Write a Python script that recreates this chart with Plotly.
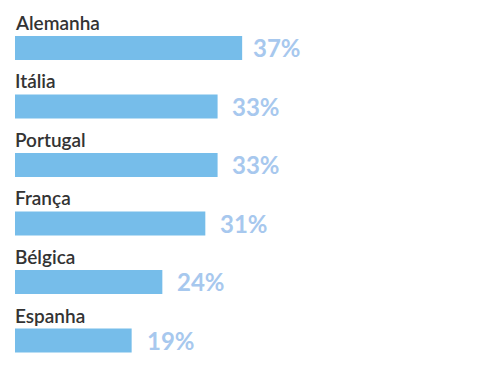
import plotly.graph_objects as go

countries = ["Alemanha", "Itália", "Portugal", "França", "Bélgica", "Espanha"]
values = [37, 33, 33, 31, 24, 19]
labels = ["37%", "33%", "33%", "31%", "24%", "19%"]

bar_color = "#76bdea"
pct_color = "#a7c8ee"
text_color = "#333333"

ypos = list(range(len(countries)))
x_max = 79
label_gap = 2.1       # distance from bar end to percentage label (data units)
label_limit = 38.44   # labels never start to the right of this

fig = go.Figure(go.Bar(
    x=values, y=ypos, orientation="h",
    marker=dict(color=bar_color, line=dict(width=0)),
    width=0.41, hoverinfo="skip",
))

annotations = []
for i, (c, v, l) in enumerate(zip(countries, values, labels)):
    annotations.append(dict(
        x=0, y=i - 0.205, xref="x", yref="y", text=c, showarrow=False,
        xanchor="left", yanchor="bottom", xshift=-2, yshift=0,
        font=dict(family="Lato", size=19, color=text_color, weight=600),
    ))
    annotations.append(dict(
        x=min(v + label_gap, label_limit), y=i, xref="x", yref="y", text=l,
        showarrow=False, xanchor="left", yanchor="middle", xshift=0, yshift=0,
        font=dict(family="Lato", size=24, color=pct_color, weight="bold"),
    ))

fig.update_layout(
    width=500, height=376,
    margin=dict(l=15, r=0, t=0, b=0),
    paper_bgcolor="white", plot_bgcolor="white",
    showlegend=False,
    xaxis=dict(range=[0, x_max], visible=False, fixedrange=True),
    yaxis=dict(range=[5.607, -0.82], visible=False, fixedrange=True),
    annotations=annotations,
)

fig.write_html("out.html", config={"displayModeBar": False})
